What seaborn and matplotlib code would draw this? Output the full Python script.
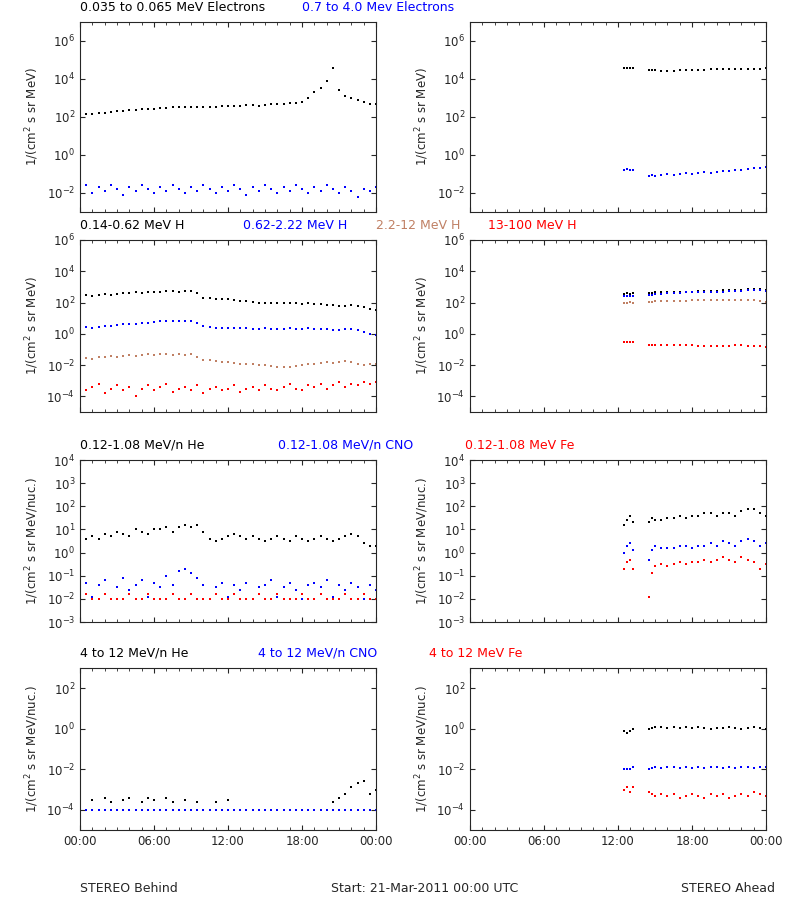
import numpy as np
import pandas as pd
import seaborn as sns
import matplotlib.pyplot as plt
from matplotlib.ticker import NullLocator, FixedLocator, MultipleLocator

# -------------------- Data (log10 values) --------------------
hours_b = list(np.arange(0, 24.5, 0.5))  # STEREO Behind sample times (h)
hours_a = [12.5, 12.75, 13.0, 13.25, 14.5, 14.75, 15.0, 15.5, 16.0, 16.5, 17.0, 17.5, 18.0, 18.5,
           19.0, 19.5, 20.0, 20.5, 21.0, 21.5, 22.0, 22.5, 23.0, 23.5, 24.0]

# Row 1: electrons
e_lo_b = [2.1, 2.15, 2.15, 2.2, 2.2, 2.25, 2.3, 2.3, 2.35, 2.35, 2.4, 2.4, 2.4, 2.45, 2.45, 2.5, 2.5, 2.5,
          2.5, 2.55, 2.55, 2.55, 2.55, 2.6, 2.6, 2.6, 2.6, 2.65, 2.65, 2.6, 2.65, 2.7, 2.7, 2.7, 2.75, 2.75,
          2.8, 3.0, 3.3, 3.5, 3.9, 4.6, 3.4, 3.1, 3.0, 2.9, 2.8, 2.7, 2.7]
e_hi_b = [-1.8, -1.6, -2.0, -1.7, -1.9, -1.6, -1.8, -2.1, -1.7, -1.9, -1.6, -1.8, -2.0, -1.7, -1.9,
          -1.6, -1.8, -2.0, -1.7, -1.9, -1.6, -1.8, -2.0, -1.7, -1.9, -1.6, -1.8, -2.1, -1.7, -1.9, -1.6,
          -1.8, -2.0, -1.7, -1.9, -1.6, -1.8, -2.0, -1.7, -1.9, -1.6, -1.8, -2.0, -1.7, -1.9, -2.2, -1.8,
          -1.9, -1.7]
e_lo_a = [4.6, 4.6, 4.6, 4.6, 4.45, 4.45, 4.45, 4.4, 4.4, 4.4, 4.45, 4.45, 4.45, 4.45, 4.45, 4.5, 4.5,
          4.5, 4.5, 4.5, 4.5, 4.55, 4.55, 4.55, 4.6]
e_hi_a = [-0.8, -0.75, -0.8, -0.8, -1.1, -1.05, -1.1, -1.05, -1.0, -1.05, -1.0, -0.95, -1.0, -0.95, -0.9,
          -0.95, -0.9, -0.85, -0.85, -0.8, -0.8, -0.75, -0.7, -0.7, -0.65]

# Row 2: protons
h1_b = [2.5, 2.5, 2.45, 2.5, 2.55, 2.5, 2.55, 2.6, 2.6, 2.65, 2.6, 2.65, 2.7, 2.7, 2.75, 2.75, 2.7, 2.75,
        2.75, 2.6, 2.3, 2.3, 2.25, 2.2, 2.2, 2.15, 2.1, 2.1, 2.05, 2.0, 2.0, 2.0, 2.0, 1.95, 1.95, 1.95,
        1.9, 2.0, 1.9, 1.9, 1.85, 1.85, 1.8, 1.8, 1.85, 1.8, 1.7, 1.6, 1.5]
h2_b = [0.4, 0.45, 0.4, 0.45, 0.5, 0.5, 0.55, 0.6, 0.6, 0.65, 0.7, 0.7, 0.75, 0.8, 0.85, 0.85, 0.8, 0.85,
        0.85, 0.7, 0.5, 0.45, 0.4, 0.4, 0.4, 0.35, 0.35, 0.35, 0.3, 0.3, 0.35, 0.3, 0.3, 0.3, 0.35, 0.3,
        0.3, 0.35, 0.3, 0.3, 0.3, 0.25, 0.25, 0.3, 0.3, 0.25, 0.1, 0.0, -0.1]
h3_b = [-1.6, -1.55, -1.6, -1.5, -1.5, -1.45, -1.5, -1.4, -1.35, -1.4, -1.35, -1.3, -1.35, -1.3, -1.3,
        -1.35, -1.3, -1.35, -1.3, -1.5, -1.7, -1.7, -1.75, -1.8, -1.8, -1.85, -1.9, -1.95, -1.9, -2.0,
        -2.0, -2.05, -2.1, -2.1, -2.1, -2.05, -2.0, -1.95, -1.9, -1.85, -1.8, -1.85, -1.8, -1.75, -1.8,
        -1.9, -2.0, -1.95, -1.9]
h4_b = [-3.3, -3.6, -3.4, -3.2, -3.8, -3.5, -3.3, -3.6, -3.4, -4.0, -3.5, -3.3, -3.6, -3.4, -3.2, -3.7,
        -3.5, -3.4, -3.6, -3.3, -3.8, -3.5, -3.4, -3.6, -3.5, -3.3, -3.7, -3.5, -3.4, -3.6, -3.3, -3.5,
        -3.6, -3.4, -3.2, -3.5, -3.6, -3.3, -3.4, -3.2, -3.5, -3.3, -3.1, -3.4, -3.2, -3.3, -3.1, -3.2,
        -3.1]
h1_a = [2.55, 2.6, 2.55, 2.6, 2.6, 2.6, 2.65, 2.65, 2.65, 2.7, 2.7, 2.7, 2.7, 2.75, 2.75, 2.75, 2.75,
        2.8, 2.8, 2.8, 2.8, 2.85, 2.85, 2.85, 2.8]
h2_a = [2.4, 2.45, 2.4, 2.45, 2.5, 2.5, 2.55, 2.55, 2.6, 2.6, 2.6, 2.65, 2.65, 2.65, 2.7, 2.7, 2.7,
        2.7, 2.75, 2.75, 2.75, 2.8, 2.8, 2.8, 2.75]
h3_a = [2.0, 2.0, 2.05, 2.0, 2.05, 2.05, 2.1, 2.1, 2.1, 2.1, 2.1, 2.1, 2.15, 2.15, 2.15, 2.15, 2.15,
        2.15, 2.15, 2.15, 2.15, 2.15, 2.15, 2.1, 2.05]
h4_a = [-0.5, -0.5, -0.5, -0.5, -0.7, -0.7, -0.7, -0.7, -0.7, -0.72, -0.72, -0.72, -0.72, -0.75, -0.75,
        -0.75, -0.75, -0.75, -0.75, -0.72, -0.72, -0.75, -0.75, -0.75, -0.85]

# Row 3: low-energy heavy ions
he1_b = [0.5, 0.6, 0.7, 0.6, 0.8, 0.7, 0.9, 0.8, 0.7, 1.0, 0.9, 0.8, 1.0, 1.0, 1.1, 0.9, 1.1, 1.2, 1.1,
         1.2, 0.9, 0.6, 0.5, 0.6, 0.7, 0.8, 0.7, 0.6, 0.7, 0.6, 0.5, 0.6, 0.7, 0.6, 0.5, 0.7, 0.6, 0.5,
         0.6, 0.7, 0.6, 0.5, 0.6, 0.7, 0.8, 0.7, 0.4, 0.3, 0.3]
he2_b = [-1.6, -1.3, -1.9, -1.4, -1.2, -2.0, -1.5, -1.1, -1.6, -1.4, -1.2, -1.9, -1.3, -1.5, -1.0, -1.4,
         -0.8, -0.7, -0.9, -1.1, -1.4, -2.0, -1.5, -1.3, -1.9, -1.4, -1.6, -1.3, -2.0, -1.5, -1.4, -1.2,
         -1.9, -1.5, -1.3, -1.6, -2.0, -1.4, -1.3, -1.5, -1.2, -1.9, -1.4, -1.6, -1.3, -1.5, -2.0, -1.4,
         -1.6]
he3_b = [-2.0, -1.8, -2.0, -2.0, -1.8, -2.0, -2.0, -2.0, -1.8, -2.0, -2.0, -1.8, -2.0, -2.0, -2.0, -1.8,
         -2.0, -2.0, -1.8, -2.0, -2.0, -2.0, -1.8, -2.0, -2.0, -1.8, -2.0, -2.0, -2.0, -1.8, -2.0, -2.0,
         -1.8, -2.0, -2.0, -2.0, -1.8, -2.0, -2.0, -1.8, -2.0, -2.0, -2.0, -1.8, -2.0, -2.0, -1.8, -2.0,
         -2.0]
he1_a = [1.2, 1.4, 1.6, 1.3, 1.3, 1.5, 1.4, 1.4, 1.5, 1.5, 1.6, 1.5, 1.6, 1.6, 1.7, 1.7, 1.6, 1.7, 1.7,
         1.6, 1.8, 1.9, 1.9, 1.7, 1.6]
he2_a = [0.0, 0.3, 0.4, 0.1, -0.3, 0.1, 0.3, 0.2, 0.2, 0.2, 0.3, 0.3, 0.2, 0.3, 0.3, 0.4, 0.3, 0.5, 0.4,
         0.3, 0.5, 0.6, 0.5, 0.3, 0.4]
he3_a = [-0.7, -0.4, -0.3, -0.7, -1.9, -0.9, -0.6, -0.5, -0.6, -0.5, -0.4, -0.5, -0.4, -0.4, -0.3, -0.4,
         -0.3, -0.2, -0.3, -0.4, -0.2, -0.3, -0.4, -0.7, -0.5]

# Row 4: high-energy heavy ions
hh1_b = [-3.4, -4.0, -3.5, -4.0, -3.4, -3.6, -4.0, -3.5, -3.4, -4.0, -3.6, -3.4, -3.5, -4.0, -3.4, -3.6,
         -4.0, -3.5, -4.0, -3.6, -4.0, -4.0, -3.6, -4.0, -3.5, -4.0, -4.0, -4.0, -4.0, -4.0, -4.0, -4.0,
         -4.0, -4.0, -4.0, -4.0, -4.0, -4.0, -4.0, -4.0, -4.0, -3.6, -3.4, -3.2, -2.9, -2.7, -2.6, -3.2,
         -3.0]
hh2_b = [-4.0] * 49
hh1_a = [-0.1, -0.2, -0.1, 0.0, 0.0, 0.05, 0.1, 0.1, 0.05, 0.1, 0.05, 0.1, 0.05, 0.1, 0.05, 0.0, 0.05,
         0.05, 0.1, 0.05, 0.0, 0.05, 0.1, 0.05, 0.0]
hh2_a = [-2.0, -2.0, -2.0, -1.9, -2.0, -1.95, -1.9, -1.95, -1.9, -1.9, -1.95, -1.9, -1.95, -1.9, -1.95,
         -1.9, -1.9, -1.95, -1.9, -1.95, -1.9, -1.9, -1.95, -1.9, -1.9]
hh3_a = [-3.0, -2.9, -3.1, -2.9, -3.1, -3.2, -3.3, -3.2, -3.3, -3.2, -3.4, -3.3, -3.2, -3.3, -3.4,
         -3.2, -3.3, -3.2, -3.4, -3.3, -3.2, -3.3, -3.1, -3.2, -3.3]

BROWN = "#c08064"

rows = [
    dict(ylim=(-3, 7), ticks=[-2, 0, 2, 4, 6], ylabel="1/(cm$^2$ s sr MeV)",
         behind=[(e_lo_b, "black"), (e_hi_b, "blue")], ahead=[(e_lo_a, "black"), (e_hi_a, "blue")],
         titles=[("0.035 to 0.065 MeV Electrons", "black", 0.0), ("0.7 to 4.0 Mev Electrons", "blue", 0.75)]),
    dict(ylim=(-5, 6), ticks=[-4, -2, 0, 2, 4, 6], ylabel="1/(cm$^2$ s sr MeV)",
         behind=[(h1_b, "black"), (h2_b, "blue"), (h3_b, BROWN), (h4_b, "red")],
         ahead=[(h1_a, "black"), (h2_a, "blue"), (h3_a, BROWN), (h4_a, "red")],
         titles=[("0.14-0.62 MeV H", "black", 0.0), ("0.62-2.22 MeV H", "blue", 0.55),
                 ("2.2-12 MeV H", BROWN, 1.0), ("13-100 MeV H", "red", 1.38)]),
    dict(ylim=(-3, 4), ticks=[-3, -2, -1, 0, 1, 2, 3, 4], ylabel="1/(cm$^2$ s sr MeV/nuc.)",
         behind=[(he1_b, "black"), (he2_b, "blue"), (he3_b, "red")],
         ahead=[(he1_a, "black"), (he2_a, "blue"), (he3_a, "red")],
         titles=[("0.12-1.08 MeV/n He", "black", 0.0), ("0.12-1.08 MeV/n CNO", "blue", 0.67),
                 ("0.12-1.08 MeV Fe", "red", 1.3)]),
    dict(ylim=(-5, 3), ticks=[-4, -2, 0, 2], ylabel="1/(cm$^2$ s sr MeV/nuc.)",
         behind=[(hh1_b, "black"), (hh2_b, "blue")],
         ahead=[(hh1_a, "black"), (hh2_a, "blue"), (hh3_a, "red")],
         titles=[("4 to 12 MeV/n He", "black", 0.0), ("4 to 12 MeV/n CNO", "blue", 0.6),
                 ("4 to 12 MeV Fe", "red", 1.18)]),
]

sns.set_style("ticks")
plt.rcParams.update({"font.size": 8.5, "xtick.direction": "in", "ytick.direction": "in",
                     "axes.linewidth": 0.8})

fig = plt.figure(figsize=(8, 9), dpi=100)
tops = [22, 240, 460, 668]
bottoms = [212, 412, 622, 830]
lefts = [80, 470]
width = 296

for r, spec in enumerate(rows):
    for c in range(2):
        y0 = 1 - bottoms[r] / 900
        h = (bottoms[r] - tops[r]) / 900
        ax = fig.add_axes([lefts[c] / 800, y0, width / 800, h])
        series = spec["behind"] if c == 0 else spec["ahead"]
        times = hours_b if c == 0 else hours_a
        for vals, col in series:
            df = pd.DataFrame({"t": times, "v": 10.0 ** np.array(vals)})
            sns.scatterplot(data=df, x="t", y="v", color=col, s=4, marker="s",
                            linewidth=0, ax=ax)
        ax.set_yscale("log")
        ax.set_ylim(10.0 ** spec["ylim"][0], 10.0 ** spec["ylim"][1])
        ax.yaxis.set_major_locator(FixedLocator([10.0 ** k for k in spec["ticks"]]))
        ax.yaxis.set_minor_locator(NullLocator())
        ax.set_xlim(0, 24)
        ax.set_xticks([0, 6, 12, 18, 24])
        ax.xaxis.set_minor_locator(MultipleLocator(1))
        ax.tick_params(which="both", top=True, right=True)
        if r == 3:
            ax.set_xticklabels(["00:00", "06:00", "12:00", "18:00", "00:00"])
        else:
            ax.set_xticklabels([])
        ax.set_xlabel("")
        ax.set_ylabel(spec["ylabel"])
        if c == 0:
            for txt, col, xpos in spec["titles"]:
                ax.annotate(txt, xy=(xpos, 1.0), xycoords="axes fraction",
                            xytext=(0, 6), textcoords="offset points", color=col,
                            ha="left", va="bottom", fontsize=9)

fig.text(80 / 800, 1 - 888 / 900, "STEREO Behind", ha="left", va="center", fontsize=9)
fig.text(425 / 800, 1 - 888 / 900, "Start: 21-Mar-2011 00:00 UTC", ha="center", va="center", fontsize=9)
fig.text(775 / 800, 1 - 888 / 900, "STEREO Ahead", ha="right", va="center", fontsize=9)

fig.savefig("out.png", dpi=100)
